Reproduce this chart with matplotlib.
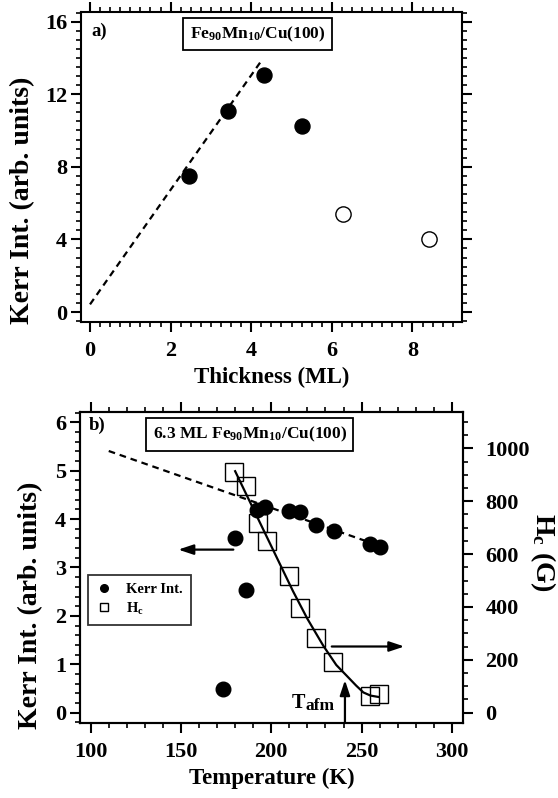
import matplotlib
matplotlib.use("Agg")
import matplotlib.pyplot as plt
from matplotlib.ticker import MultipleLocator
from matplotlib.lines import Line2D

plt.rcParams['font.family'] = ['Liberation Serif', 'DejaVu Serif']
plt.rcParams['font.weight'] = 'bold'
plt.rcParams['mathtext.fontset'] = 'custom'
plt.rcParams['mathtext.rm'] = 'Liberation Serif:bold'
plt.rcParams['mathtext.it'] = 'Liberation Serif:bold'
plt.rcParams['mathtext.bf'] = 'Liberation Serif:bold'

# panel a) data
thick_full = [2.45, 3.42, 4.32, 5.27]
kerr_full = [7.47, 11.05, 13.05, 10.25]
thick_open = [6.28, 8.42]
kerr_open = [5.4, 4.0]
fit_a_x = [0.0, 4.22]
fit_a_y = [0.42, 13.74]

# panel b) data
temp_kerr = [173, 180, 186, 192, 196.5, 210, 216, 225, 234.5, 254.5, 260]
kerr_b = [0.48, 3.61, 2.54, 4.19, 4.25, 4.16, 4.14, 3.88, 3.76, 3.49, 3.43]
temp_hc = [179.5, 186, 192.8, 197.4, 210, 216, 224.8, 234.3, 254.6, 259.8]
hc = [911, 858, 719, 648, 516, 395, 281, 190, 63, 69]
fit_kerr_x = [110, 256]
fit_kerr_y = [5.41, 3.50]
fit_hc_x = [180, 212, 220, 228.8, 236, 241.8, 247, 251, 255, 259.3]
fit_hc_y = [914, 460, 355, 253, 180, 139, 102, 76, 64, 59]

TICK = 16
XLAB = 16.5
YLAB = 20


def style(ax, right=True):
    ax.tick_params(which='both', direction='out', top=True, right=right,
                   width=1.5, labelsize=TICK)
    ax.tick_params(which='major', length=7)
    ax.tick_params(which='minor', length=3.5, width=1.2)
    ax.tick_params(axis='x', pad=7)
    ax.tick_params(axis='y', pad=3)
    for s in ax.spines.values():
        s.set_linewidth(1.5)


fig = plt.figure(figsize=(5.58, 7.98), dpi=100)

# ---- a)
ax = fig.add_axes([0.1452, 0.5965, 0.6828, 0.3885])
ax.plot(fit_a_x, fit_a_y, color='black', lw=1.6, ls=(0, (3, 2.2)))
ax.plot(thick_full, kerr_full, 'o', color='black', ms=10.8)
ax.plot(thick_open, kerr_open, 'o', mfc='white', mec='black', mew=1.0, ms=11)
ax.set_xlim(-0.223, 9.23)
ax.set_ylim(-0.55, 16.53)
ax.xaxis.set_major_locator(MultipleLocator(2))
ax.xaxis.set_minor_locator(MultipleLocator(0.25))
ax.yaxis.set_major_locator(MultipleLocator(4))
ax.yaxis.set_minor_locator(MultipleLocator(0.5))
style(ax)
ax.tick_params(axis='y', which='both', labelright=False)
ax.set_xlabel('Thickness (ML)', fontsize=XLAB, fontweight='bold')
ax.set_ylabel('Kerr Int. (arb. units)', fontsize=YLAB, fontweight='bold')
ax.yaxis.set_label_coords(-0.12, 0.394)
ax.text(0.026, 0.936, 'a)', transform=ax.transAxes, fontsize=13.5,
        va='center', ha='left')
ax.text(0.464, 0.929, r'Fe$_{90}$Mn$_{10}$/Cu(100)', transform=ax.transAxes,
        fontsize=12.5, va='center', ha='center',
        bbox=dict(boxstyle='square,pad=0.38', fc='white', ec='black', lw=1.3))

# ---- b)
bx = fig.add_axes([0.1434, 0.0944, 0.6858, 0.3889])
bx2 = bx.twinx()
bx.set_zorder(bx2.get_zorder() + 1)
bx.patch.set_visible(False)

bx.plot(fit_kerr_x, fit_kerr_y, color='black', lw=1.6, ls=(0, (3, 2.2)))
bx.plot(temp_kerr, kerr_b, 'o', color='black', ms=10.5)
bx2.plot(fit_hc_x, fit_hc_y, color='black', lw=1.6)
bx2.plot(temp_hc, hc, 's', mfc='none', mec='black', mew=1.0, ms=13)

bx.set_xlim(94.1, 306.0)
bx.set_ylim(-0.21, 6.21)
bx2.set_ylim(-38.5, 1137)
bx.xaxis.set_major_locator(MultipleLocator(50))
bx.xaxis.set_minor_locator(MultipleLocator(10))
bx.yaxis.set_major_locator(MultipleLocator(1))
bx.yaxis.set_minor_locator(MultipleLocator(0.2))
bx2.yaxis.set_major_locator(MultipleLocator(200))
bx2.yaxis.set_minor_locator(MultipleLocator(50))
style(bx, right=False)
style(bx2)
bx2.tick_params(axis='y', pad=9.5)
bx.set_xlabel('Temperature (K)', fontsize=XLAB, fontweight='bold')
bx.set_ylabel('Kerr Int. (arb. units)', fontsize=YLAB, fontweight='bold')
bx.yaxis.set_label_coords(-0.097, 0.379)
bx2.set_ylabel(r'H$_{\mathregular{c}}$ (G)', fontsize=YLAB, fontweight='bold',
               rotation=-90, va='center')
bx2.yaxis.set_label_coords(1.21, 0.548)

bx.text(0.022, 0.959, 'b)', transform=bx.transAxes, fontsize=13.5,
        va='center', ha='left')
bx.text(0.443, 0.929, r'6.3 ML Fe$_{90}$Mn$_{10}$/Cu(100)',
        transform=bx.transAxes, fontsize=12.5, va='center', ha='center',
        bbox=dict(boxstyle='square,pad=0.38', fc='white', ec='black', lw=1.3))

arr = dict(arrowstyle='-|>,head_length=0.9,head_width=0.3', color='black',
           lw=1.6, shrinkA=0, shrinkB=0)
bx.annotate('', xy=(148.5, 3.37), xytext=(179, 3.37), arrowprops=arr)
bx2.annotate('', xy=(273.7, 250), xytext=(233.5, 250), arrowprops=arr)
bx.annotate('', xy=(240.8, 0.67), xytext=(240.8, -0.2), arrowprops=arr)

t = bx.text(211.3, 0.10, 'T', fontsize=14.5, ha='left', va='baseline')
bx.annotate('afm', xy=(1, 0), xycoords=t, xytext=(0, -1.2),
            textcoords='offset points', fontsize=12.5, ha='left', va='bottom')

handles = [Line2D([], [], marker='o', ls='none', color='black', ms=5.5),
           Line2D([], [], marker='s', ls='none', mfc='none', mec='black',
                  mew=1.0, ms=6)]
leg = bx.legend(handles, ['Kerr Int.', r'H$_{\mathregular{c}}$'],
                loc='upper left', bbox_to_anchor=(0.02, 0.476), fontsize=10.5,
                frameon=True, fancybox=False, handlelength=1.2,
                borderpad=0.55, labelspacing=0.3, handletextpad=0.9,
                borderaxespad=0)
leg.get_frame().set_edgecolor('black')
leg.get_frame().set_linewidth(1.3)

fig.savefig('out.png', dpi=100)
